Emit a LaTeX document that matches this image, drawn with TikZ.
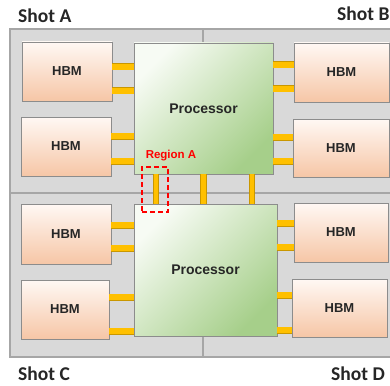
\documentclass[tikz,border=0pt]{standalone}
\usepackage{fontspec}
\setmainfont{Liberation Sans}
\newfontfamily\shotfont{Carlito}
\usetikzlibrary{calc}
\definecolor{panelfill}{HTML}{D9D9D9}
\definecolor{panelline}{HTML}{A6A6A6}
\definecolor{hbmtop}{HTML}{FFF8F4}
\definecolor{hbmbot}{HTML}{F6C6A6}
\definecolor{boxline}{HTML}{8C8C8C}
\definecolor{proctop}{HTML}{F7FBF4}
\definecolor{procbot}{HTML}{A6CF8A}
\definecolor{busfill}{HTML}{FFC000}
\definecolor{busline}{HTML}{C99700}
\definecolor{txt}{HTML}{262626}
\tikzset{
  hbm/.style={draw=boxline, line width=0.9pt, top color=hbmtop, bottom color=hbmbot,
    text=txt, font=\fontsize{13}{13}\selectfont\bfseries, inner sep=0pt},
  proc/.style={draw=boxline, line width=0.9pt, top color=proctop, bottom color=procbot,
    shading angle=45, text=txt, font=\fontsize{14}{14}\selectfont\bfseries, inner sep=0pt},
  bus/.style={draw=busline, line width=0.7pt, double=busfill, double distance=5.6pt, line cap=butt},
  vbus/.style={draw=busline, line width=0.7pt, double=busfill, double distance=4.8pt, line cap=butt},
  shotlabel/.style={anchor=base west, inner sep=0pt, text=txt, font=\shotfont\fontsize{19.5}{19.5}\selectfont\bfseries},
  regionbox/.style={draw=red, dashed, dash pattern=on 5pt off 3pt, line width=1.8pt, inner sep=0pt},
  divider/.style={draw=panelline, line width=1.2pt}
}
\begin{document}
\begin{tikzpicture}[x=1pt,y=-1pt]
\clip (0,0) rectangle (390,385);
% panel
\draw[fill=panelfill, draw=panelline, line width=1.4pt] (10,29) rectangle (400,357);
\coordinate (dl) at (10,193);
\coordinate (dr) at (400,193);
\coordinate (dt) at (203,29);
\coordinate (db) at (203,357);
\draw[divider] (dl) -- (dr);
\draw[divider] (dt) -- (db);
% processors
\node[proc, minimum width=139pt, minimum height=131pt] (pT) at (203.5,108.5) {Processor};
\node[proc, minimum width=143pt, minimum height=132pt] (pB) at (205.5,270) {Processor};
% HBMs
\node[hbm, minimum width=90pt, minimum height=59pt] (hA1) at (67,71.5) {HBM};
\node[hbm, minimum width=90pt, minimum height=59pt] (hA2) at (66,146.5) {HBM};
\node[hbm, minimum width=95pt, minimum height=59pt] (hB1) at (341.5,72.5) {HBM};
\node[hbm, minimum width=96pt, minimum height=58pt] (hB2) at (341,148) {HBM};
\node[hbm, minimum width=90pt, minimum height=60pt] (hC1) at (66,234) {HBM};
\node[hbm, minimum width=88pt, minimum height=59pt] (hC2) at (65,309.5) {HBM};
\node[hbm, minimum width=94pt, minimum height=59pt] (hD1) at (341,232.5) {HBM};
\node[hbm, minimum width=95pt, minimum height=58pt] (hD2) at (339.5,308) {HBM};
% HBM buses
\draw[bus] (hA1.east |- 0,67) -- (pT.west |- 0,67);
\draw[bus] (hA1.east |- 0,91) -- (pT.west |- 0,91);
\draw[bus] (hA2.east |- 0,136) -- (pT.west |- 0,136);
\draw[bus] (hA2.east |- 0,161) -- (pT.west |- 0,161);
\draw[bus] (pT.east |- 0,65) -- (hB1.west |- 0,65);
\draw[bus] (pT.east |- 0,89) -- (hB1.west |- 0,89);
\draw[bus] (pT.east |- 0,137) -- (hB2.west |- 0,137);
\draw[bus] (pT.east |- 0,161) -- (hB2.west |- 0,161);
\draw[bus] (hC1.east |- 0,225) -- (pB.west |- 0,225);
\draw[bus] (hC1.east |- 0,248) -- (pB.west |- 0,248);
\draw[bus] (hC2.east |- 0,297) -- (pB.west |- 0,297);
\draw[bus] (hC2.east |- 0,331) -- (pB.west |- 0,331);
\draw[bus] (pB.east |- 0,223) -- (hD1.west |- 0,223);
\draw[bus] (pB.east |- 0,247) -- (hD1.west |- 0,247);
\draw[bus] (pB.east |- 0,295) -- (hD2.west |- 0,295);
\draw[bus] (pB.east |- 0,330) -- (hD2.west |- 0,330);
% processor-to-processor buses
\draw[vbus] (pT.south -| 156,0) -- (pB.north -| 156,0);
\draw[vbus] (pT.south -| 203.5,0) -- (pB.north -| 203.5,0);
\draw[vbus] (pT.south -| 252,0) -- (pB.north -| 252,0);
% region A
\node[regionbox, minimum width=26pt, minimum height=45pt] (ra) at (155,189.5) {};
\node[text=red, font=\fontsize{11.5}{11.5}\selectfont\bfseries, inner sep=0pt] (ralabel) at (171,155.5) {Region A};
% shot labels
\node[shotlabel] (sA) at (18,23) {Shot A};
\node[shotlabel] (sB) at (337,21) {Shot B};
\node[shotlabel] (sC) at (18,380.5) {Shot C};
\node[shotlabel] (sD) at (331,380.5) {Shot D};
\end{tikzpicture}
\end{document}
